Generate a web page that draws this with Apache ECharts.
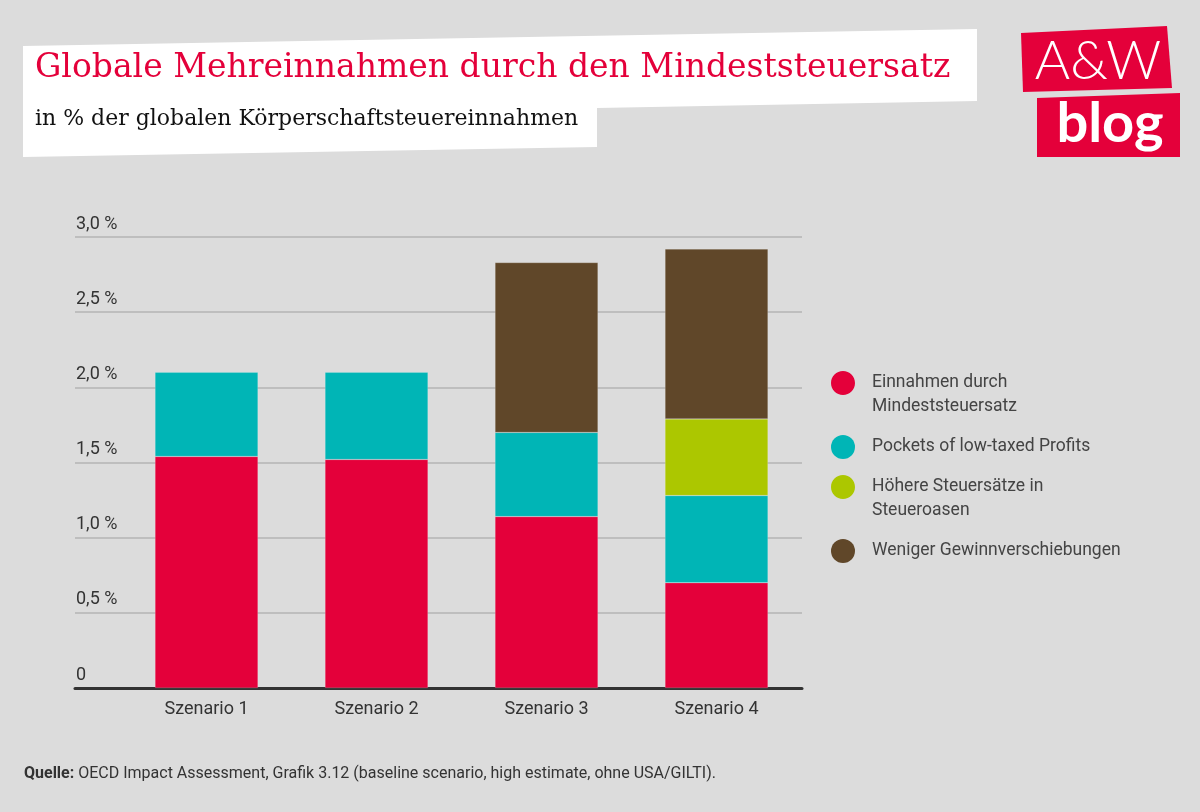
<!DOCTYPE html>
<html>
<head>
<meta charset="utf-8">
<script src="https://cdn.jsdelivr.net/npm/echarts@6/dist/echarts.min.js"></script>
<style>
html,body{margin:0;padding:0;background:#dcdcdc;}
#chart{width:1200px;height:812px;}
</style>
</head>
<body>
<div id="chart"></div>
<script>
// ---- data ----
var categories = ['Szenario 1', 'Szenario 2', 'Szenario 3', 'Szenario 4'];
var seriesNames = [
  'Einnahmen durch\nMindeststeuersatz',
  'Pockets of low-taxed Profits',
  'Höhere Steuersätze in\nSteueroasen',
  'Weniger Gewinnverschiebungen'
];
var mindeststeuersatz = [1.54, 1.52, 1.14, 0.70];
var pockets = [0.56, 0.58, 0.56, 0.58];
var hoehereSteuersaetze = ['-', '-', '-', 0.51];
var wenigerGewinnverschiebung = ['-', '-', 1.13, 1.13];
var yTickLabels = ['0', '0,5 %', '1,0 %', '1,5 %', '2,0 %', '2,5 %', '3,0 %'];

var titleText = 'Globale Mehreinnahmen durch den Mindeststeuersatz';
var subtitleText = 'in % der globalen Körperschaftsteuereinnahmen';
var sourceBold = 'Quelle:';
var sourceText = ' OECD Impact Assessment, Grafik 3.12 (baseline scenario, high estimate, ohne USA/GILTI).';

var colors = ['#e4003a', '#00b5b6', '#acc700', '#604729'];
var sansFont = 'Roboto, "Noto Sans", sans-serif';

// legend marker: circle in the upper part of a 24x48 box (for two-line entries)
var topCircleIcon = 'path://M0,48L0.001,48L0,48.001Z' +
  'M12,0C18.6276,0 24,5.3724 24,12C24,18.6276 18.6276,24 12,24C5.3724,24 0,18.6276 0,12C0,5.3724 5.3724,0 12,0Z';

var chart = echarts.init(document.getElementById('chart'));

function mkSeries(name, data, color) {
  return {
    name: name,
    type: 'bar',
    stack: 'total',
    xAxisIndex: 1,
    yAxisIndex: 1,
    barWidth: 103,
    data: data,
    itemStyle: { color: color, borderColor: 'rgba(255,255,255,0.35)', borderWidth: 0.5 },
    emphasis: { disabled: true }
  };
}

var option = {
  backgroundColor: '#dcdcdc',
  animation: false,
  color: colors,
  grid: [
    { left: 75, right: 398, top: 237, bottom: 124 },
    { left: 121.5, right: 398.5, top: 237, bottom: 124 }
  ],
  xAxis: [
    {
      gridIndex: 0, type: 'value', min: 0, max: 1,
      axisLine: { show: true, lineStyle: { color: '#333333', width: 3 } },
      axisTick: { show: false }, axisLabel: { show: false }, splitLine: { show: false }
    },
    {
      gridIndex: 1, type: 'category', data: categories,
      axisLine: { show: false }, axisTick: { show: false },
      axisLabel: { color: '#333333', fontSize: 18, fontFamily: sansFont, margin: 12 }
    }
  ],
  yAxis: [
    {
      gridIndex: 0, type: 'value', min: 0, max: 3, interval: 0.5,
      axisLine: { show: false }, axisTick: { show: false },
      splitLine: { show: true, lineStyle: { color: '#bebebe', width: 2 } },
      axisLabel: {
        inside: true, margin: 1, align: 'left', verticalAlign: 'bottom',
        padding: [0, 0, 4, 0],
        color: '#333333', fontSize: 18, fontFamily: sansFont,
        formatter: function (v) { return yTickLabels[Math.round(v / 0.5)]; }
      }
    },
    { gridIndex: 1, type: 'value', min: 0, max: 3, show: false }
  ],
  legend: {
    orient: 'vertical',
    left: 831, top: 371,
    padding: 0,
    itemWidth: 24, itemHeight: 48, itemGap: 16,
    selectedMode: false,
    itemStyle: { borderWidth: 0 },
    textStyle: { color: '#444444', fontSize: 17.5, lineHeight: 24, fontFamily: sansFont, padding: [0, 0, 0, 12] },
    data: [
      { name: seriesNames[0], icon: topCircleIcon },
      { name: seriesNames[1], icon: 'circle' },
      { name: seriesNames[2], icon: topCircleIcon },
      { name: seriesNames[3], icon: 'circle' }
    ]
  },
  series: [
    mkSeries(seriesNames[0], mindeststeuersatz, colors[0]),
    mkSeries(seriesNames[1], pockets, colors[1]),
    mkSeries(seriesNames[2], hoehereSteuersaetze, colors[2]),
    mkSeries(seriesNames[3], wenigerGewinnverschiebung, colors[3])
  ],
  graphic: [
    {
      type: 'polygon', silent: true,
      shape: { points: [[23, 46], [977, 29], [977, 101], [597, 108], [597, 147], [23, 157]] },
      style: { fill: '#ffffff' }
    },
    {
      type: 'text', silent: true, x: 35, y: 68,
      style: { text: titleText, fill: '#e4003a', font: '33px "DejaVu Serif", serif', verticalAlign: 'middle' }
    },
    {
      type: 'text', silent: true, x: 35, y: 119,
      style: { text: subtitleText, fill: '#111111', font: '22px "DejaVu Serif", serif', verticalAlign: 'middle' }
    },
    {
      type: 'polygon', silent: true,
      shape: { points: [[1021, 33], [1167, 26], [1172, 88], [1023, 92]] },
      style: { fill: '#e4003a' }
    },
    {
      type: 'polygon', silent: true,
      shape: { points: [[1037, 98], [1180, 93], [1180, 157], [1037, 157]] },
      style: { fill: '#e4003a' }
    },
    {
      type: 'text', silent: true, x: 1098, y: 62,
      style: { text: 'A&W', fill: '#ffffff', font: '300 54px Lato, sans-serif', align: 'center', verticalAlign: 'middle' }
    },
    {
      type: 'text', silent: true, x: 1110, y: 124,
      style: { text: 'blog', fill: '#ffffff', font: 'bold 56px Lato, sans-serif', align: 'center', verticalAlign: 'middle' }
    },
    {
      type: 'text', silent: true, x: 24, y: 774,
      style: {
        text: '{b|' + sourceBold + '}{n|' + sourceText + '}',
        verticalAlign: 'middle',
        rich: {
          b: { fontWeight: 'bold', fontSize: 16, fill: '#333333', fontFamily: sansFont },
          n: { fontSize: 16, fill: '#333333', fontFamily: sansFont }
        }
      }
    }
  ]
};
chart.setOption(option);
</script>
</body>
</html>
